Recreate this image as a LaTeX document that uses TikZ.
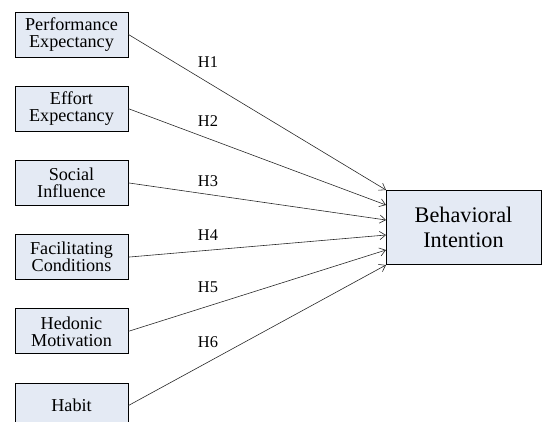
\documentclass[tikz,border=0pt]{standalone}
\usepackage{fontspec}
\setmainfont{Liberation Serif}
\usepackage{tikz}
\usetikzlibrary{arrows.meta}

\definecolor{boxfill}{HTML}{E4EAF4}

\begin{document}
\begin{tikzpicture}[x=0.03cm,y=-0.03cm]
\tikzset{factor/.style={draw=black, line width=0.8pt, fill=boxfill, align=center, inner sep=1pt, minimum width=3.39cm, minimum height=1.35cm, font=\fontsize{15.5}{14.5}\selectfont}}
\tikzset{outcome/.style={draw=black, line width=0.8pt, fill=boxfill, align=center, minimum width=4.65cm, minimum height=2.22cm, font=\fontsize{19}{21.5}\selectfont}}
\tikzset{hyp/.style={font=\fontsize{14}{14}\selectfont}}
\tikzset{path/.style={draw=black!85, line width=0.5pt, -{Straight Barb[length=5pt,width=7pt]}}}
\clip (0,0) rectangle (542,421);
\fill[white] (0,0) rectangle (542,421);
% predictors
\node[factor] (pe) at (71.5,34.5) {Performance\\Expectancy};
\node[factor] (ee) at (71.5,108.7) {Effort\\Expectancy};
\node[factor] (si) at (71.5,182.9) {Social\\Influence};
\node[factor] (fc) at (71.5,257.1) {Facilitating\\Conditions};
\node[factor] (hm) at (71.5,331.3) {Hedonic\\Motivation};
\node[factor] (hb) at (71.5,405.5) {Habit};
% outcome
\node[outcome] (bi) at (463.5,227) {Behavioral\\Intention};
\coordinate (t1) at (386,190);
\coordinate (t2) at (386,205);
\coordinate (t3) at (386,220);
\coordinate (t4) at (386,235);
\coordinate (t5) at (386,250);
\coordinate (t6) at (386,265);
% hypotheses
\draw[path] (pe.east) -- (t1);
\draw[path] (ee.east) -- (t2);
\draw[path] (si.east) -- (t3);
\draw[path] (fc.east) -- (t4);
\draw[path] (hm.east) -- (t5);
\draw[path] (hb.east) -- (t6);
\node[hyp] (h1) at (208,62) {H1};
\node[hyp] (h2) at (208,121) {H2};
\node[hyp] (h3) at (208,181) {H3};
\node[hyp] (h4) at (208,235) {H4};
\node[hyp] (h5) at (208,287) {H5};
\node[hyp] (h6) at (208,342) {H6};
\end{tikzpicture}
\end{document}
